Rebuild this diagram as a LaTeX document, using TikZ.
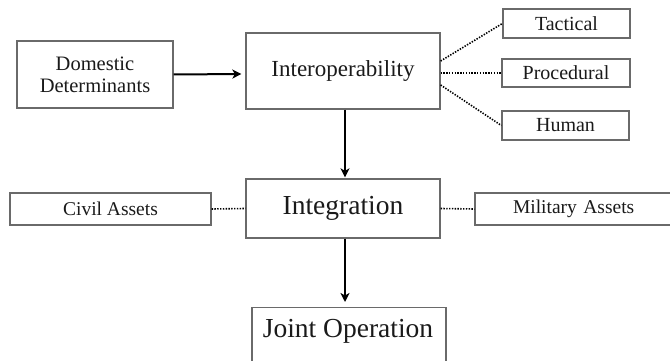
\documentclass[tikz,border=0pt]{standalone}
\usepackage{fontspec}
\setmainfont{Liberation Serif}
\usetikzlibrary{arrows.meta,calc}
\definecolor{boxline}{HTML}{6A6A6A}
\definecolor{ink}{HTML}{1A1A1A}
\tikzset{
  box/.style={draw=boxline, line width=1.3pt, rectangle, inner sep=0pt, align=center, text=ink, anchor=center},
  small/.style={font=\fontsize{20}{23}\selectfont},
  mid/.style={font=\fontsize{23}{26}\selectfont},
  big/.style={font=\fontsize{27.5}{30}\selectfont},
  arr/.style={line width=2pt, -{Stealth[length=9pt,width=9pt,inset=2.5pt]}},
  dots/.style={line width=1.6pt, dash pattern=on 1.4pt off 1.4pt},
}
\begin{document}
\begin{tikzpicture}[x=1pt,y=-1pt]
\clip (0,0) rectangle (670,361);
\fill[white] (0,0) rectangle (670,361);
\node[box,small,font=\fontsize{20.5}{24}\selectfont,minimum width=156pt,minimum height=67pt] (dom) at (95,74.5) {Domestic\\[-2pt]Determinants};
\node[box,mid,minimum width=194pt,minimum height=76pt] (inter) at (343,71) {Interoperability};
\node[box,small,minimum width=127pt,minimum height=29pt] (tac) at (566.5,23.5) {Tactical};
\node[box,small,minimum width=128pt,minimum height=28pt] (proc) at (566,73) {Procedural};
\node[box,small,minimum width=127pt,minimum height=29pt] (hum) at (565.5,125.5) {Human};
\node[box,big,minimum width=194pt,minimum height=59pt] (integ) at (343,208.5) {Integration};
\node[box,small,font=\fontsize{19.5}{22}\selectfont,minimum width=201pt,minimum height=32pt] (civ) at (110.5,209) {Civil Assets};
\node[box,small,font=\fontsize{19.5}{22}\selectfont,minimum width=200pt,minimum height=32pt,text width=200pt,align=left] (mil) at (575,209) {\hspace{38pt}Military Assets};
\node[box,big,minimum width=194pt,minimum height=70pt,anchor=north] (joint) at (349,307) {};
\node[big,text=ink] (jointlabel) at (348,331) {Joint Operation};

\draw[arr] (dom.east) -- ($(inter.west)+(-4,3)$);
\draw[arr] ($(inter.south)+(2,0)$) -- ($(integ.north)+(2,-1)$);
\draw[arr] ($(integ.south)+(2,0)$) -- ($(integ.south |- joint.north)+(2,-5)$);

\draw[dots] ($(inter.east)+(0,-10)$) -- (tac.west);
\draw[dots] ($(inter.east)+(0,2)$) -- (proc.west);
\draw[dots] ($(inter.east)+(0,14)$) -- (hum.west);
\draw[dots] (civ.east) -- (integ.west);
\draw[dots] (integ.east) -- (mil.west);
\end{tikzpicture}
\end{document}
